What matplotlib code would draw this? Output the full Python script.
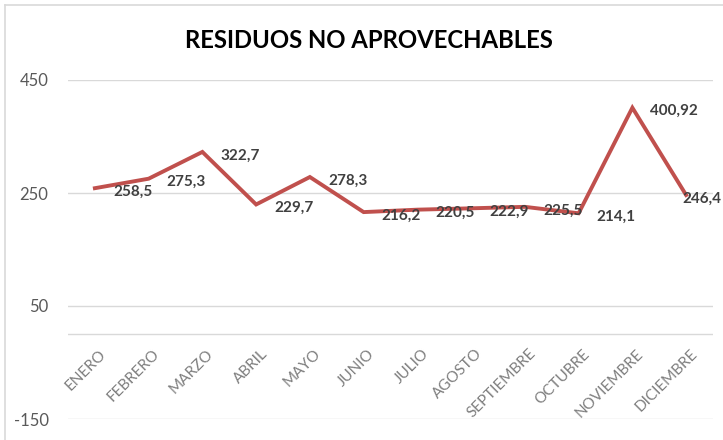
import matplotlib
matplotlib.use("Agg")
import matplotlib.pyplot as plt
from matplotlib.lines import Line2D

months = ["ENERO", "FEBRERO", "MARZO", "ABRIL", "MAYO", "JUNIO", "JULIO",
          "AGOSTO", "SEPTIEMBRE", "OCTUBRE", "NOVIEMBRE", "DICIEMBRE"]
values = [258.5, 275.3, 322.7, 229.7, 278.3, 216.2, 220.5, 222.9, 225.5, 214.1, 400.92, 246.4]
yticks = [-150, 50, 250, 450]
title = "RESIDUOS NO APROVECHABLES"

plt.rcParams['font.family'] = ['Lato', 'DejaVu Sans']

W, H = 723, 440
fig = plt.figure(figsize=(W / 100, H / 100), dpi=100)
ax = fig.add_axes([68 / W, 1 - 419 / H, (713 - 68) / W, (419 - 80) / H])

x = list(range(len(months)))
ax.plot(x, values, color="#C0504D", lw=2.8, solid_joinstyle="miter", zorder=3)
n = len(values)
for i, (xi, v) in enumerate(zip(x, values)):
    dx = 13 if i < n - 1 else -3
    ax.annotate(f"{v:g}".replace(".", ","), (xi, v), xytext=(dx, -2.5),
                textcoords="offset points", ha="left", va="center",
                fontsize=11, fontweight="bold", color="#404040", zorder=4,
                annotation_clip=False)

ax.set_xlim(-0.5, len(months) - 0.5)
ax.set_ylim(-150, 450)
ax.set_yticks(yticks)
ax.set_yticklabels([str(t) for t in yticks], fontsize=12, color="#595959")
ax.grid(axis="y", color="#D9D9D9", lw=1)
ax.axhline(0, color="#D9D9D9", lw=1, zorder=1)
for s in ax.spines.values():
    s.set_visible(False)
ax.tick_params(axis="y", length=0, pad=14)
ax.tick_params(axis="x", length=0)
ax.set_xticks(x)
ax.set_xticklabels([])
for xi, m in zip(x, months):
    ax.annotate(m, (xi, 0), xytext=(3, -9), textcoords="offset points",
                ha="right", va="top", rotation=45, rotation_mode="anchor",
                fontsize=11, color="#7F7F7F")

fig.text(369 / W, 1 - 41 / H, title, ha="center", va="center",
         fontsize=17.2, fontweight="bold", color="black")

fig.add_artist(Line2D([5 / W, 1], [1 - 5 / H, 1 - 5 / H], transform=fig.transFigure,
                      color="#D9D9D9", lw=1.2))
fig.add_artist(Line2D([5 / W, 5 / W], [0, 1 - 5 / H], transform=fig.transFigure,
                      color="#D9D9D9", lw=1.2))

fig.savefig("out.png", dpi=100)
